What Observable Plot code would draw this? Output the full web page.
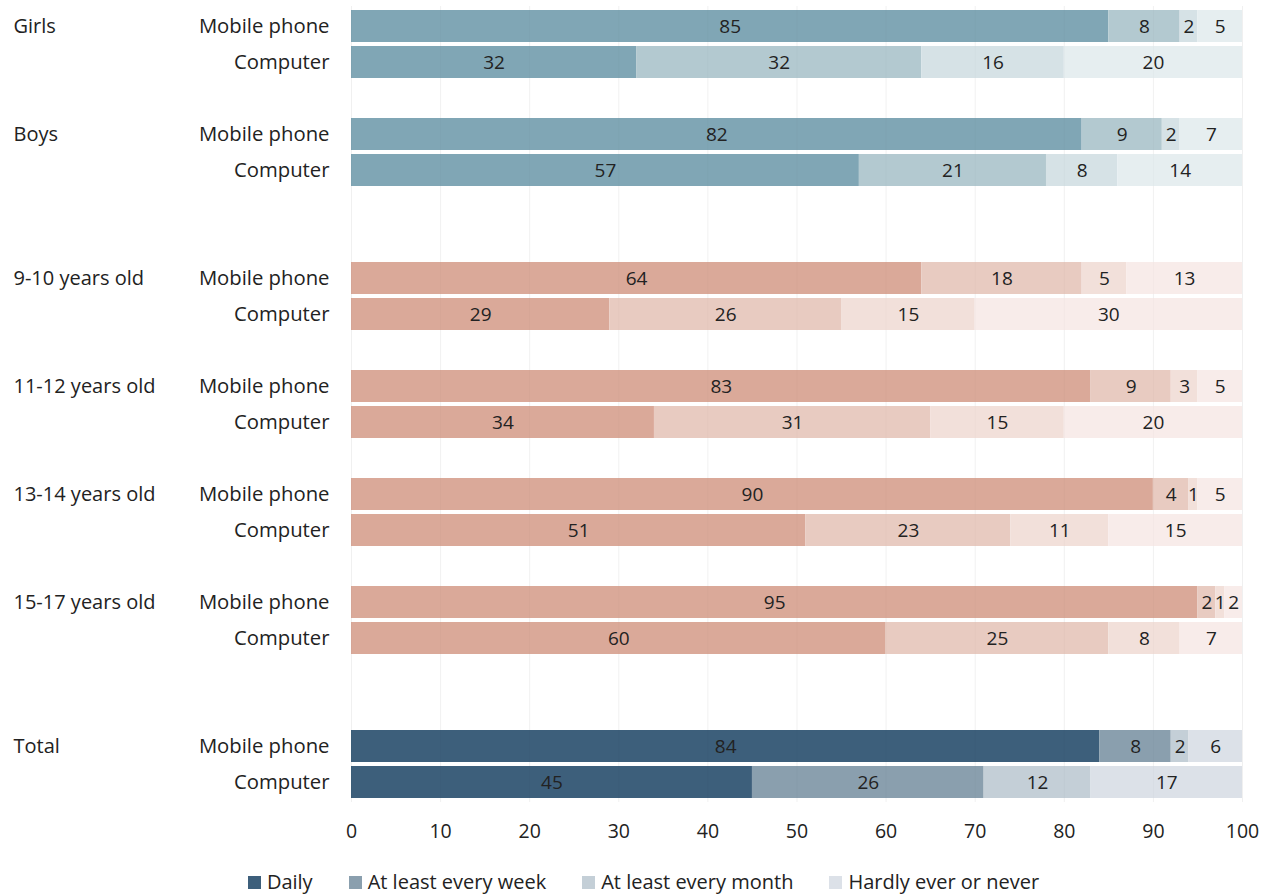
<!DOCTYPE html>
<html>
<head>
<meta charset="utf-8">
<script src="https://cdn.jsdelivr.net/npm/d3@7"></script>
<script src="https://cdn.jsdelivr.net/npm/@observablehq/plot@0.6"></script>
<style>
  body { margin: 0; background: white; font-family: 'Open Sans', sans-serif; color: #222; }
  #legend { display: flex; justify-content: center; gap: 36px; margin-top: 18px; padding-left: 16px; font-size: 20px; line-height: 24px; }
  .item { display: flex; align-items: center; gap: 6px; }
  .sw { width: 13px; height: 13px; display: inline-block; }
</style>
</head>
<body>
<div id="chart"></div>
<div id="legend"></div>
<script>
const groups = ["Girls", "Boys", "9-10 years old", "11-12 years old", "13-14 years old", "15-17 years old", "Total"];
const devices = ["Mobile phone", "Computer"];
const frequencies = ["Daily", "At least every week", "At least every month", "Hardly ever or never"];
const mobileValues = [[85, 8, 2, 5], [82, 9, 2, 7], [64, 18, 5, 13], [83, 9, 3, 5], [90, 4, 1, 5], [95, 2, 1, 2], [84, 8, 2, 6]];
const computerValues = [[32, 32, 16, 20], [57, 21, 8, 14], [29, 26, 15, 30], [34, 31, 15, 20], [51, 23, 11, 15], [60, 25, 8, 7], [45, 26, 12, 17]];
const groupPalette = ["gender", "gender", "age", "age", "age", "age", "total"];
const genderColors = ["#80a6b5", "#b3c9d0", "#d6e2e6", "#e6eef0"];
const ageColors = ["#daa999", "#e8cbc1", "#f2e0da", "#f8ecea"];
const totalColors = ["#3d5f7b", "#8a9fae", "#c4cfd7", "#dce1e8"];
const gapsAfter = [1, 2, 1, 1, 1, 2, 0];
const xTicks = [0, 10, 20, 30, 40, 50, 60, 70, 80, 90, 100];

const palettes = {gender: genderColors, age: ageColors, total: totalColors};
const slots = [];
const rows = [];
groups.forEach((g, i) => {
  devices.forEach(dev => {
    const slot = `${g}|${dev}`;
    slots.push(slot);
    const vals = dev === "Mobile phone" ? mobileValues[i] : computerValues[i];
    frequencies.forEach((f, j) => {
      rows.push({group: g, device: dev, slot, freq: f, value: vals[j], fill: palettes[groupPalette[i]][j]});
    });
  });
  for (let k = 0; k < gapsAfter[i]; k++) slots.push(`gap-${i}-${k}`);
});

const chart = Plot.plot({
  width: 1271,
  height: 852,
  marginLeft: 351,
  marginRight: 29,
  marginTop: 6,
  marginBottom: 50,
  style: {fontFamily: "'Open Sans', sans-serif", fontSize: "20px", color: "#222", background: "white"},
  x: {domain: [0, 100], label: null},
  y: {domain: slots, padding: 0.111, label: null},
  color: {type: "identity"},
  marks: [
    Plot.ruleX(xTicks, {stroke: "#f5f5f5"}),
    Plot.barX(rows, Plot.stackX({x: "value", y: "slot", fill: "fill"})),
    Plot.ruleX(xTicks, {stroke: "#000", strokeOpacity: 0.02}),
    Plot.text(rows, Plot.stackX({x: "value", y: "slot", text: d => String(d.value), fill: "#222", fontSize: 19})),
    Plot.axisX({ticks: xTicks, tickSize: 0, tickPadding: 22, fontSize: 19.5, label: null}),
    Plot.axisY({tickSize: 0, tickPadding: 22, fontSize: 20.3, label: null,
      tickFormat: s => s.startsWith("gap") ? "" : s.split("|")[1]}),
    Plot.text(groups, {y: g => `${g}|Mobile phone`, text: d => d, frameAnchor: "left", textAnchor: "start", dx: -338, fontSize: 20, fill: "#222"})
  ]
});
document.getElementById("chart").appendChild(chart);

const legend = document.getElementById("legend");
frequencies.forEach((f, j) => {
  const item = document.createElement("div");
  item.className = "item";
  const sw = document.createElement("span");
  sw.className = "sw";
  sw.style.background = totalColors[j];
  const label = document.createElement("span");
  label.textContent = f;
  item.appendChild(sw);
  item.appendChild(label);
  legend.appendChild(item);
});
</script>
</body>
</html>
